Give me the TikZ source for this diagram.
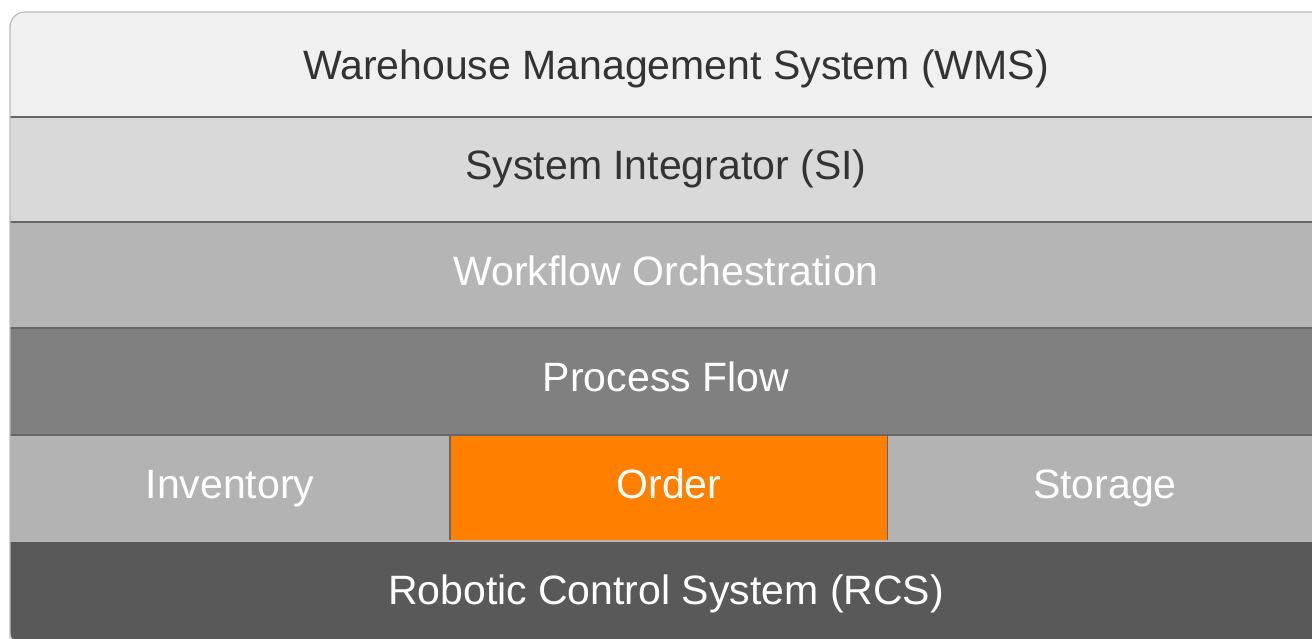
\documentclass[tikz,border=0pt]{standalone}
\usepackage{fontspec}
\setmainfont{Liberation Sans}
\definecolor{cWMS}{HTML}{F0F0F0}
\definecolor{cSI}{HTML}{D9D9D9}
\definecolor{cWF}{HTML}{B5B5B5}
\definecolor{cPF}{HTML}{808080}
\definecolor{cSide}{HTML}{B3B3B3}
\definecolor{cOrder}{HTML}{FF7F00}
\definecolor{cRCS}{HTML}{595959}
\definecolor{cSep}{HTML}{666666}
\definecolor{cDark}{HTML}{333333}
\definecolor{cBorder}{HTML}{BBBBBB}
\begin{document}
\begin{tikzpicture}[x=1pt,y=-1pt,
  txt/.style={font=\fontsize{41}{48}\selectfont,text height=29.4pt,text depth=9pt},
  band/.style={txt,rectangle,inner sep=0pt,outer sep=0pt,minimum width=1312pt,minimum height=106pt,anchor=center},
  cell/.style={txt,rectangle,inner sep=0pt,outer sep=0pt,minimum height=106pt,anchor=center,text=white},
  sep/.style={draw=cSep,line width=1.5pt}]
\useasboundingbox (0,0) rectangle (1312,638);
\begin{scope}
\clip[rounded corners=15pt] (10,12) rectangle (1340,646);
\node[band,fill=cWMS,minimum width=1332pt,minimum height=105pt,text=cDark,text depth=0pt] (wms) at (676,64.5) {Warehouse Management System (WMS)};
\node[band,fill=cSI,minimum height=105pt,text=cDark] (si) at (666,169.5) {System Integrator (SI)};
\node[band,fill=cWF,text=white] (wf) at (666,275) {Workflow Orchestration};
\node[band,fill=cPF,minimum height=107pt,text=white] (pf) at (666,381.5) {Process Flow};
\node[cell,fill=cSide,minimum width=440pt] (inv) at (230,488) {Inventory};
\node[cell,fill=cOrder,minimum width=438pt,draw=cSep,line width=1.2pt] (ord) at (669,488) {Order};
\node[cell,fill=cSide,minimum width=434pt] (sto) at (1105,488) {Storage};
\node[band,fill=cRCS,minimum height=98pt,text=white,text depth=0pt] (rcs) at (666,590) {Robotic Control System (RCS)};
\draw[sep] (wms.south west) -- (wms.south east);
\draw[sep] (si.south west) -- (si.south east);
\draw[sep] (wf.south west) -- (wf.south east);
\draw[sep] (pf.south west) -- (pf.south east);
\draw[draw=cWF,line width=1.2pt] (rcs.north west) -- (rcs.north east);
\end{scope}
\draw[cBorder,line width=1.2pt,rounded corners=15pt] (1340,12) -- (10,12) -- (10,646);
\end{tikzpicture}
\end{document}
